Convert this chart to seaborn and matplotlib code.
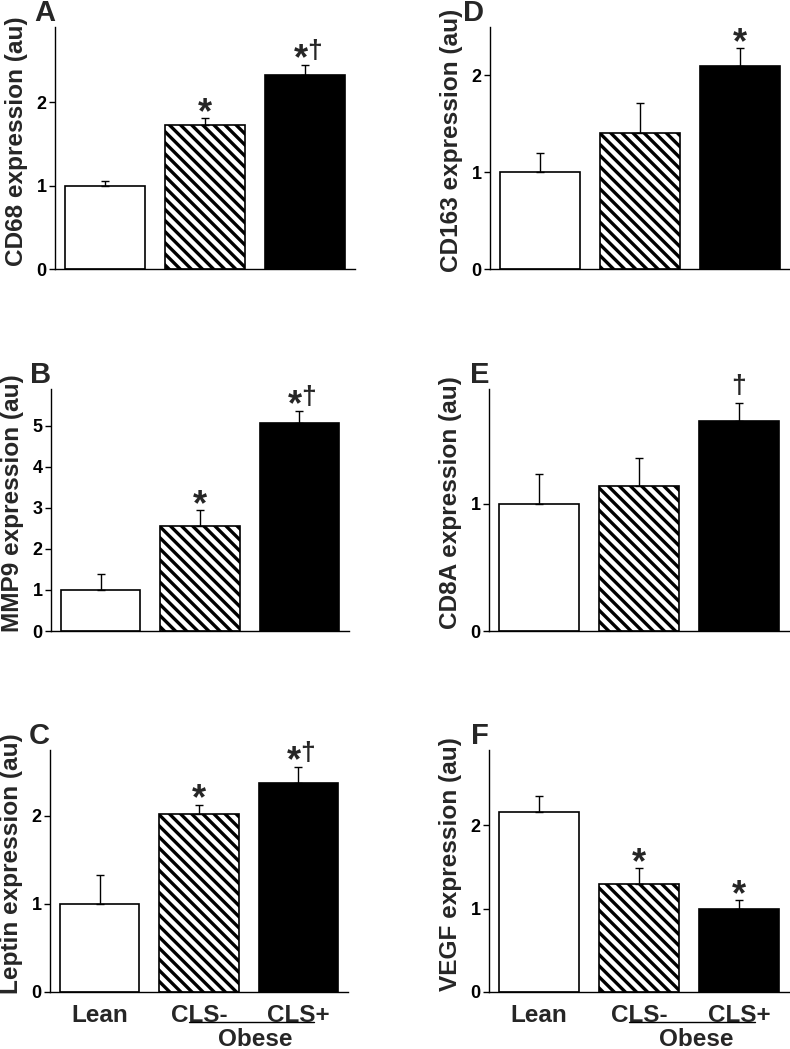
import matplotlib
matplotlib.use("Agg")
import matplotlib.pyplot as plt
import matplotlib.transforms as mtransforms
import seaborn as sns

groups = ["Lean", "CLS-", "CLS+"]

cd68 = [1.00, 1.72, 2.32]
cd68_err = [0.05, 0.09, 0.12]
cd68_marks = ["", "*", "*†"]

mmp9 = [1.00, 2.56, 5.08]
mmp9_err = [0.40, 0.39, 0.28]
mmp9_marks = ["", "*", "*†"]

leptin = [1.00, 2.02, 2.38]
leptin_err = [0.33, 0.11, 0.18]
leptin_marks = ["", "*", "*†"]

cd163 = [1.00, 1.40, 2.10]
cd163_err = [0.20, 0.31, 0.18]
cd163_marks = ["", "", "*"]

cd8a = [1.00, 1.135, 1.65]
cd8a_err = [0.23, 0.22, 0.14]
cd8a_marks = ["", "", "†"]

vegf = [2.16, 1.30, 1.00]
vegf_err = [0.19, 0.18, 0.10]
vegf_marks = ["", "*", "*"]

sns.set_style("ticks")
plt.rcParams["font.family"] = ["Liberation Sans", "DejaVu Sans"]
plt.rcParams["font.weight"] = "bold"
plt.rcParams["hatch.linewidth"] = 2.4

W, H = 790, 1049
fig = plt.figure(figsize=(W / 100, H / 100), dpi=100)


def add_axes(left, right, top, bottom):
    return fig.add_axes([left / W, 1 - bottom / H, (right - left) / W, (bottom - top) / H])


def put_marks(ax, vals, errs, marks):
    for i, m in enumerate(marks):
        top = vals[i] + errs[i]
        if m == "*":
            ax.annotate("*", (i, top), xytext=(0, -3.5), textcoords="offset points",
                        ha="center", va="baseline", fontsize=26, fontweight="bold")
        elif m == "†":
            ax.annotate("†", (i, top), xytext=(0, 7.5), textcoords="offset points",
                        ha="center", va="baseline", fontsize=19, fontweight="bold")
        elif m == "*†":
            ax.annotate("*", (i, top), xytext=(-3, -3), textcoords="offset points",
                        ha="center", va="baseline", fontsize=26, fontweight="bold")
            ax.annotate("†", (i, top), xytext=(7, 5), textcoords="offset points",
                        ha="center", va="baseline", fontsize=19, fontweight="bold")


def panel(box, vals, errs, marks, ylabel, letter, ymax, yticks, letter_dx=0, xlabels=False):
    left, right, top, bottom = box
    ax = add_axes(left, right, top, bottom)
    sns.barplot(x=groups, y=vals, hue=groups, palette=["white", "white", "black"],
                legend=False, width=0.8, edgecolor="black", linewidth=1.2, ax=ax)
    ax.patches[1].set_hatch("\\\\\\")
    ax.errorbar(range(3), vals, yerr=[[0, 0, 0], errs], fmt="none", ecolor="black",
                elinewidth=1.0, capsize=3, capthick=1.0, zorder=5)
    put_marks(ax, vals, errs, marks)
    ax.set_xlim(-0.5, 2.5)
    ax.set_ylim(0, ymax)
    ax.set_yticks(yticks)
    ax.set_yticklabels([str(t) for t in yticks], fontsize=13, fontweight="bold")
    ax.tick_params(axis="y", length=4, width=1, pad=2, colors="black")
    ax.set_ylabel(ylabel, fontsize=17.6, fontweight="bold", va="center")
    ax.yaxis.set_label_coords(-0.128, 0.53)
    sns.despine(ax=ax)
    for s in ["left", "bottom"]:
        ax.spines[s].set_linewidth(1.0)
        ax.spines[s].set_color("black")
    if xlabels:
        ax.tick_params(axis="x", length=0, pad=9)
        ax.set_xticks(range(3))
        ax.set_xticklabels(groups, fontsize=17.5, fontweight="bold")
        trans = mtransforms.blended_transform_factory(ax.transData, ax.transAxes)
        ax.plot([0.9, 2.16], [-0.123, -0.123], color="black", linewidth=1.0,
                transform=trans, clip_on=False)
        ax.text(1.57, -0.222, "Obese", transform=trans, ha="center", va="baseline",
                fontsize=17.5, fontweight="bold")
    else:
        ax.set_xticks([])
    ax.set_xlabel("")
    fig.text((left + letter_dx) / W, 1 - (top - 6) / H, letter, ha="right", va="baseline",
             fontsize=21, fontweight="bold")
    return ax


panel((55, 355, 27, 269), cd68, cd68_err, cd68_marks, "CD68 expression (au)", "A", 2.9, [0, 1, 2])
panel((51, 349, 389, 631), mmp9, mmp9_err, mmp9_marks, "MMP9 expression (au)", "B", 5.9, [0, 1, 2, 3, 4, 5])
panel((50, 348, 750, 992), leptin, leptin_err, leptin_marks, "Leptin expression (au)", "C", 2.75, [0, 1, 2], xlabels=True)
panel((490, 790, 27, 269), cd163, cd163_err, cd163_marks, "CD163 expression (au)", "D", 2.5, [0, 1, 2], letter_dx=-6)
panel((489, 789, 389, 631), cd8a, cd8a_err, cd8a_marks, "CD8A expression (au)", "E", 1.9, [0, 1])
panel((489, 789, 750, 992), vegf, vegf_err, vegf_marks, "VEGF expression (au)", "F", 2.9, [0, 1, 2], xlabels=True)

fig.savefig("out.png", dpi=100, facecolor="white")
